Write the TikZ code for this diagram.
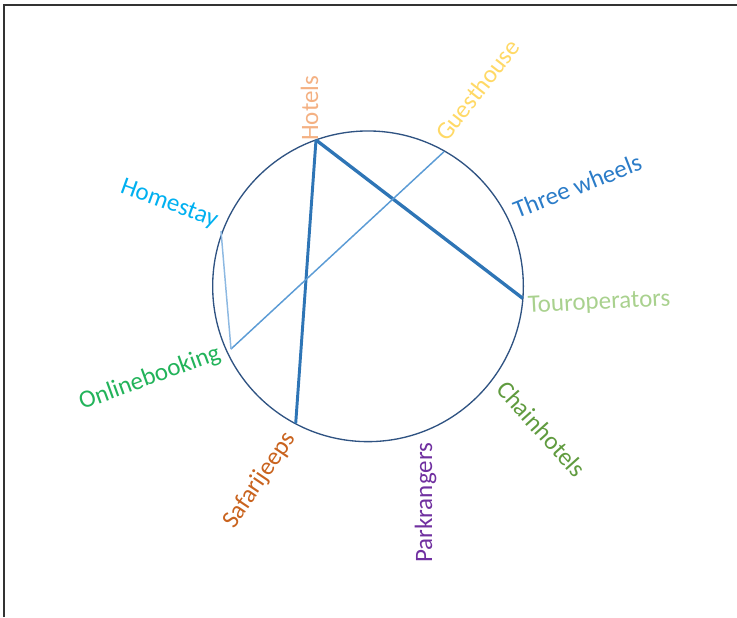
\documentclass[tikz,border=0pt]{standalone}
\usepackage{fontspec}
\setmainfont{Carlito}
\usepackage{tikz}

\definecolor{ringblue}{HTML}{2F5382}
\definecolor{strongblue}{HTML}{2E75B6}
\definecolor{midblue}{HTML}{5B9BD5}
\definecolor{paleblue}{HTML}{8DB9E2}
\definecolor{hotelsc}{HTML}{F4B183}
\definecolor{guesthousec}{HTML}{FFD966}
\definecolor{threewheelsc}{HTML}{2B7CC8}
\definecolor{tourc}{HTML}{A9D18E}
\definecolor{chainc}{HTML}{609B3F}
\definecolor{parkc}{HTML}{7030A0}
\definecolor{safaric}{HTML}{C9631E}
\definecolor{onlinec}{HTML}{22B35A}
\definecolor{homestayc}{HTML}{00B0F0}

\begin{document}
\begin{tikzpicture}[x=0.75pt,y=0.75pt,yscale=-1,xscale=1,
    lbl/.style={inner sep=0pt, font=\fontsize{18.75}{22}\selectfont},
    thickline/.style={strongblue, line width=2.5pt},
    thinline/.style={line width=1.1pt}]
            \useasboundingbox (0,0) rectangle (737,617);

            % Frame (top and left edges)
            \draw [black!80, line width=1.1pt] (4,617) -- (4,5) -- (737,5);

            % Circle
            \draw [ringblue, line width=1pt] (368,286.3) circle [radius=116.5pt];

            % Points on the circle
            \coordinate (hotels) at (316,140);
            \coordinate (guesthouse) at (444,151.7);
            \coordinate (homestay) at (221,231);
            \coordinate (touroperators) at (522.7,298.3);
            \coordinate (onlinebooking) at (231,349);
            \coordinate (safarijeeps) at (295.7,423.3);

            % Connections
            \draw [thickline] (hotels) -- (touroperators);
            \draw [thickline, line width=2.2pt] (hotels) -- (safarijeeps);
            \draw [thinline, midblue] (guesthouse) -- (onlinebooking);
            \draw [thinline, paleblue] (homestay) -- (onlinebooking);

            % Labels
            \node [lbl, anchor=base west, rotate=90, text=hotelsc] (hotelsLabel) at (318,141) {Hotels};
            \node [lbl, anchor=base west, rotate=52, text=guesthousec] (guesthouseLabel) at (447,143) {Guesthouse};
            \node [lbl, anchor=base west, rotate=21.5, text=threewheelsc] (threewheelsLabel) at (517,219) {Three wheels};
            \node [lbl, anchor=base west, rotate=3, text=tourc] (touroperatorsLabel) at (528,313) {Touroperators};
            \node [lbl, anchor=base west, rotate=-48, text=chainc] (chainhotelsLabel) at (495,390) {Chainhotels};
            \node [lbl, anchor=base west, rotate=90, text=parkc] (parkrangersLabel) at (432,563) {Parkrangers};
            \node [lbl, anchor=base east, rotate=56, text=safaric] (safarijeepsLabel) at (296,438) {Safarijeeps};
            \node [lbl, anchor=base east, rotate=20, text=onlinec] (onlinebookingLabel) at (222,359) {Onlinebooking};
            \node [lbl, anchor=base east, rotate=-20, text=homestayc] (homestayLabel) at (215,227) {Homestay};

            \end{tikzpicture}
\end{document}
